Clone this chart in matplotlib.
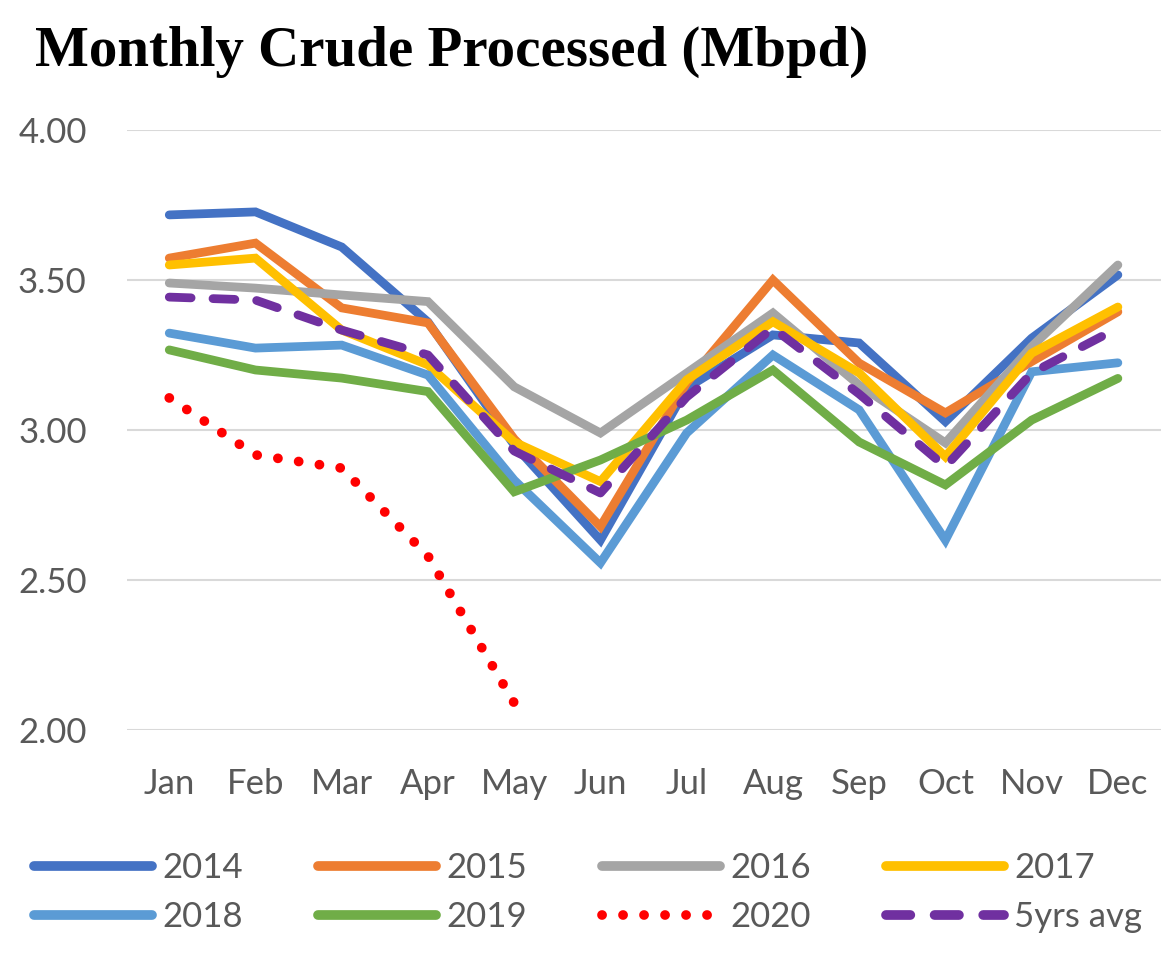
import matplotlib.pyplot as plt

months = ['Jan', 'Feb', 'Mar', 'Apr', 'May', 'Jun', 'Jul', 'Aug', 'Sep', 'Oct', 'Nov', 'Dec']

y2014 = [3.717, 3.727, 3.61, 3.36, 2.95, 2.633, 3.14, 3.317, 3.29, 3.028, 3.306, 3.517]
y2015 = [3.573, 3.623, 3.407, 3.357, 2.97, 2.678, 3.157, 3.50, 3.223, 3.057, 3.228, 3.394]
y2016 = [3.49, 3.473, 3.45, 3.428, 3.144, 2.99, 3.19, 3.39, 3.15, 2.957, 3.278, 3.55]
y2017 = [3.55, 3.573, 3.333, 3.217, 2.96, 2.828, 3.167, 3.361, 3.19, 2.911, 3.256, 3.41]
y2018 = [3.323, 3.273, 3.283, 3.183, 2.833, 2.557, 2.99, 3.25, 3.067, 2.633, 3.194, 3.224]
y2019 = [3.267, 3.20, 3.173, 3.128, 2.794, 2.90, 3.033, 3.20, 2.96, 2.817, 3.033, 3.172]
y2020 = [3.107, 2.917, 2.873, 2.58, 2.09]
avg5 = [3.443, 3.433, 3.333, 3.25, 2.93, 2.79, 3.11, 3.34, 3.12, 2.878, 3.19, 3.34]

FONT = ['Lato', 'DejaVu Sans']


def main():
    fig = plt.figure(figsize=(11.69, 9.72), dpi=100)
    ax = fig.add_axes([127 / 1169, 1 - 730 / 972, 1034 / 1169, 600 / 972])
    x = list(range(12))
    lw = 6.3
    series = [
        ('2014', y2014, '#4472C4'),
        ('2015', y2015, '#ED7D31'),
        ('2016', y2016, '#A5A5A5'),
        ('2017', y2017, '#FFC000'),
        ('2018', y2018, '#5B9BD5'),
        ('2019', y2019, '#70AD47'),
    ]
    handles = {}
    for name, vals, c in series:
        h, = ax.plot(x, vals, color=c, lw=lw, solid_capstyle='round',
                     solid_joinstyle='miter', label=name, zorder=3)
        handles[name] = h
    h, = ax.plot(x[:len(y2020)], y2020, color='#FF0000', lw=7,
                 linestyle=(0, (0.01, 2.15)), dash_capstyle='round', label='2020', zorder=3)
    handles['2020'] = h
    h, = ax.plot(x, avg5, color='#7030A0', lw=lw, linestyle=(0, (2.5, 2.5)),
                 dash_capstyle='round', label='5yrs avg', zorder=4)
    handles['5yrs avg'] = h

    ax.set_xlim(-0.49, 11.5)
    ax.set_ylim(2.0, 4.0)
    ax.set_yticks([2.0, 2.5, 3.0, 3.5, 4.0])
    ax.set_yticklabels(['2.00', '2.50', '3.00', '3.50', '4.00'])
    ax.set_xticks(x)
    ax.set_xticklabels(months)
    ax.grid(axis='y', color='#D9D9D9', lw=1.5)
    ax.set_axisbelow(True)
    for s in ax.spines.values():
        s.set_visible(False)
    ax.tick_params(length=0, labelsize=25, labelcolor='#595959')
    ax.tick_params(axis='x', pad=27)
    ax.tick_params(axis='y', pad=29)
    for t in ax.get_xticklabels() + ax.get_yticklabels():
        t.set_family(FONT)

    fig.text(35 / 1169, 1 - 52 / 972, 'Monthly Crude Processed (Mbpd)', fontsize=41,
             fontweight='bold', family=['Liberation Serif', 'DejaVu Serif'], va='center', ha='left')

    order = ['2014', '2015', '2016', '2017', '2018', '2019', '2020', '5yrs avg']
    # legend fills column by column, reorder so it reads row by row
    ordered = [order[i] for i in [0, 4, 1, 5, 2, 6, 3, 7]]
    leg = fig.legend([handles[k] for k in ordered], ordered, loc='lower left',
                     bbox_to_anchor=(3 / 1169, 1 - 964 / 972), ncol=4, frameon=False,
                     handlelength=3.4, handletextpad=0.3, columnspacing=2.15,
                     labelspacing=0.48, prop={'family': FONT, 'size': 25})
    for t in leg.get_texts():
        t.set_color('#595959')
    for l in leg.get_lines():
        l.set_linewidth(7)

    fig.savefig('out.png', dpi=100)


if __name__ == '__main__':
    main()
